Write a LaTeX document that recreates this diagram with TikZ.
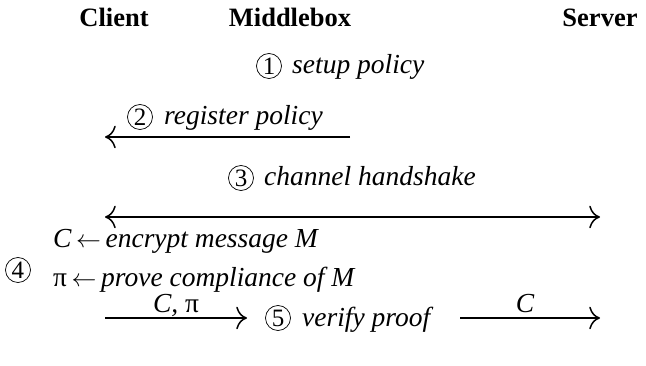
\documentclass[tikz,border=0pt]{standalone}
\usepackage{fontspec}
\setmainfont{Liberation Serif}
\usetikzlibrary{arrows.meta}
\newcommand{\lar}{\,$\leftarrow$\,}
\tikzset{
  txt/.style={inner sep=0pt, anchor=base west, font=\fontsize{27.5}{30}\selectfont\itshape},
  head/.style={inner sep=0pt, anchor=base, font=\fontsize{26.5}{30}\selectfont\bfseries},
  num/.style={circle, draw, line width=0.7pt, inner sep=0pt, minimum size=25pt, font=\fontsize{25}{28}\selectfont},
  tip/.tip={Computer Modern Rightarrow[scale=2.2]},
  msg/.style={line width=1.5pt, -tip},
  lbl/.style={inner sep=0pt, anchor=base, font=\fontsize{27.5}{30}\selectfont\itshape}
}
\begin{document}
\begin{tikzpicture}[x=1pt,y=-1pt]
\useasboundingbox (0,0) rectangle (646,366);
\node[head] (client) at (114,27) {Client};
\node[head] (middlebox) at (290,27) {Middlebox};
\node[head] (server) at (600,27) {Server};
% step 1
\node[num] (c1) at (269,66) {1};
\node[txt] (t1) at (292,74) {setup policy};
% step 2
\node[num] (c2) at (140,117) {2};
\node[txt] (t2) at (164,125) {register policy};
\coordinate (a2s) at (350,137);
\coordinate (a2e) at (105,137);
\draw[msg] (a2s) -- (a2e);
% step 3
\node[num] (c3) at (241,178) {3};
\node[txt] (t3) at (264,186) {channel handshake};
\coordinate (a3s) at (105,217);
\coordinate (a3e) at (600,217);
\draw[msg, tip-tip] (a3s) -- (a3e);
% step 4
\node[num] (c4) at (18,270) {4};
\node[txt] (t4a) at (53,248) {C\lar encrypt message M};
\node[txt] (t4b) at (53,287) {{\upshape π}\lar prove compliance of M};
% step 5
\coordinate (a5s) at (105,318);
\coordinate (a5e) at (247,318);
\draw[msg] (a5s) -- (a5e);
\node[lbl] (l5a) at (176,313) {C, {\upshape π}};
\node[num] (c5) at (278,318) {5};
\node[txt] (t5) at (302,327) {verify proof};
\coordinate (a6s) at (460,318);
\coordinate (a6e) at (600,318);
\draw[msg] (a6s) -- (a6e);
\node[lbl] (l5b) at (525,313) {C};
\end{tikzpicture}
\end{document}
